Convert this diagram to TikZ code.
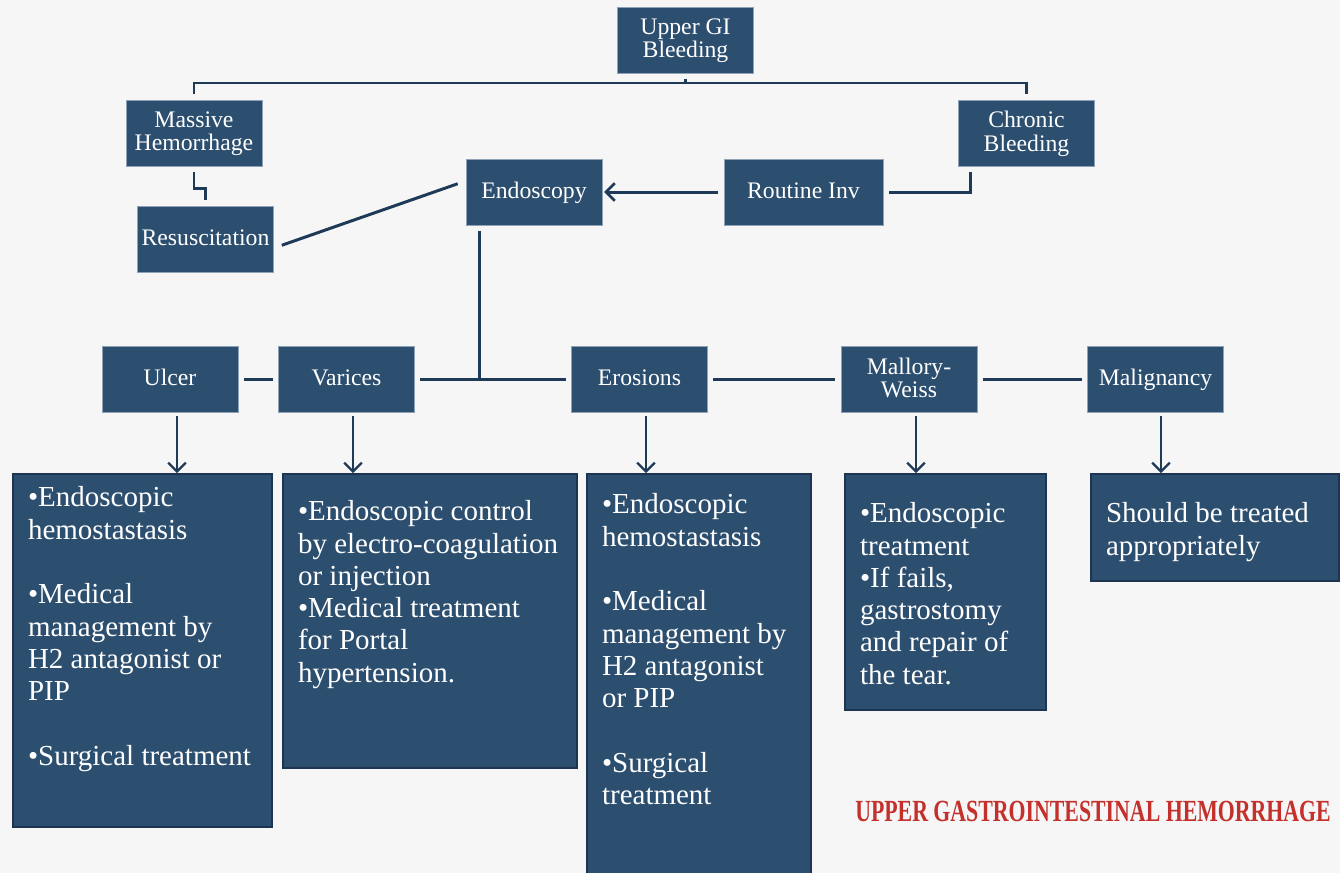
\documentclass[tikz,border=0pt]{standalone}
\usepackage{fontspec}
\setmainfont{Liberation Serif}
\usetikzlibrary{arrows.meta}

\definecolor{boxblue}{HTML}{2C4E6F}
\definecolor{boxdark}{HTML}{1D3550}
\definecolor{boxedge}{HTML}{8DA2B6}
\definecolor{linecol}{HTML}{1E3A57}
\definecolor{bgcol}{HTML}{F6F6F6}
\definecolor{titlered}{HTML}{C4302B}

% text of a treatment box: width, height, top gap, lines
\newcommand{\boxtext}[4]{\parbox[c][#2][t]{#1}{\raggedright\leftskip=0.3cm\vspace*{#3}\strut #4}}

\begin{document}
\begin{tikzpicture}[x=0.02cm,y=-0.02cm,
  box/.style={draw=boxedge, line width=0.4pt, fill=boxblue, text=white, align=center,
    font=\fontsize{13.5}{13.5}\selectfont, inner sep=1pt, text depth=2pt,
    minimum width=2.72cm, minimum height=1.32cm},
  detail/.style={draw=boxdark, line width=1.2pt, fill=boxblue, text=white, anchor=north west,
    inner sep=0pt, font=\fontsize{16.5}{18.4}\selectfont},
  conn/.style={draw=linecol, line width=1.7pt, shorten <=3pt, shorten >=3pt},
  down/.style={draw=linecol, line width=0.8pt, shorten <=2pt,
    -{Straight Barb[length=5pt, width=10pt, line width=1.3pt]}},
]
\useasboundingbox (0,0) rectangle (1340,873);
\fill[bgcol] (0,0) rectangle (1340,873);

% top part
\node[box] (top) at (685.5,40) {Upper GI\\Bleeding};
\node[box] (massive) at (194,133) {Massive\\Hemorrhage};
\node[box] (chronic) at (1026.5,133) {Chronic\\Bleeding};
\node[box] (endo) at (534,192) {Endoscopy};
\node[box, minimum width=3.18cm] (routine) at (803.5,192) {Routine Inv};
\node[box] (resus) at (205.5,239) {Resuscitation};

\coordinate (split) at (685.5,83);
\coordinate (elbowR) at (205.5,188);
\draw[conn, shorten >=0pt] (top.south) -- (split);
\draw[conn] (massive.north) |- (split) -| (chronic.north);
\draw[conn] (massive.south) |- (elbowR) -- (resus.north);
\draw[conn] ([xshift=0.06cm,yshift=-0.16cm]resus.east) -- ([xshift=-0.06cm,yshift=0.2cm]endo.west);
\draw[conn] ([xshift=-1.13cm]chronic.south) |- (routine.east);
\draw[conn, shorten >=1pt, -{Straight Barb[length=5pt, width=10pt, line width=1.5pt]}] (routine.west) -- (endo.east);

% causes
\node[box] (ulcer) at (170,379.5) {Ulcer};
\node[box] (varices) at (346.5,379.5) {Varices};
\node[box] (erosions) at (639.5,379.5) {Erosions};
\node[box] (mallory) at (909,379.5) {Mallory-\\Weiss};
\node[box] (malign) at (1155.5,379.5) {Malignancy};

\draw[conn, shorten >=0pt] ([xshift=-1.1cm]endo.south) -- ([xshift=-1.1cm]endo.south |- varices.east);
\draw[conn] (ulcer) -- (varices);
\draw[conn] (varices) -- (erosions);
\draw[conn] (erosions) -- (mallory);
\draw[conn] (mallory) -- (malign);

% treatment boxes
\node[detail] (ulcerbox) at (12,473) {\boxtext{5.18cm}{7.06cm}{0.2cm}{%
  •Endoscopic\\hemostastasis\\[\baselineskip]
  •Medical\\management by\\H2 antagonist or\\PIP\\[\baselineskip]
  •Surgical treatment}};
\node[detail] (varbox) at (282,473) {\boxtext{5.88cm}{5.88cm}{0.48cm}{%
  •Endoscopic control\\by electro-coagulation\\or injection\\
  •Medical treatment\\for Portal\\hypertension.}};
\node[detail] (erobox) at (586,473) {\boxtext{4.48cm}{8.2cm}{0.34cm}{%
  •Endoscopic\\hemostastasis\\[\baselineskip]
  •Medical\\management by\\H2 antagonist\\or PIP\\[\baselineskip]
  •Surgical\\treatment}};
\node[detail] (malbox) at (844,473) {\boxtext{4.02cm}{4.72cm}{0.52cm}{%
  •Endoscopic\\treatment\\•If fails,\\gastrostomy\\and repair of\\the tear.}};
\node[detail] (mgbox) at (1090,473) {\boxtext{4.96cm}{2.14cm}{0.52cm}{%
  Should be treated\\appropriately}};

\draw[down] ([xshift=0.14cm]ulcer.south) -- ([xshift=0.14cm]ulcer.south |- ulcerbox.north);
\draw[down] ([xshift=0.13cm]varices.south) -- ([xshift=0.13cm]varices.south |- varbox.north);
\draw[down] ([xshift=0.13cm]erosions.south) -- ([xshift=0.13cm]erosions.south |- erobox.north);
\draw[down] ([xshift=0.14cm]mallory.south) -- ([xshift=0.14cm]mallory.south |- malbox.north);
\draw[down] ([xshift=0.11cm]malign.south) -- ([xshift=0.11cm]malign.south |- mgbox.north);

\node[text=titlered, font=\bfseries\fontsize{17.5}{17.5}\selectfont] (footer) at (1093,811)
  {\scalebox{0.71}[1]{UPPER GASTROINTESTINAL HEMORRHAGE}};
\end{tikzpicture}
\end{document}
